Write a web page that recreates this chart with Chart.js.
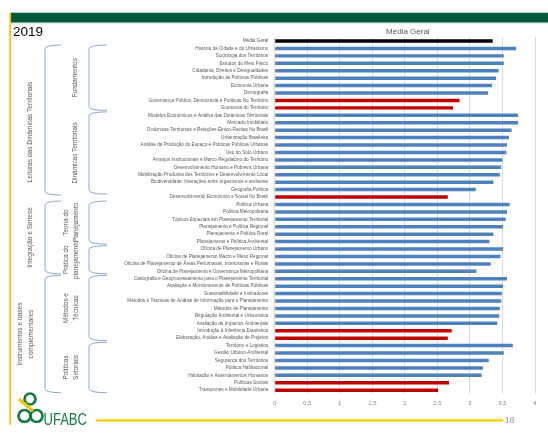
<!DOCTYPE html>
<html><head><meta charset="utf-8">
<script src="https://cdn.jsdelivr.net/npm/chart.js@4"></script>
<style>html,body{margin:0;padding:0;background:#fff;}canvas{display:block;}</style>
</head><body>
<canvas id="c" width="548" height="438"></canvas>
<script>
const categories = [
 'Média Geral',
 'História da Cidade e do Urbanismo','Sociologia dos Territórios','Estudos do Meio Físico','Cidadania, Direitos e Desigualdades','Introdução às Políticas Públicas','Economia Urbana','Demografia','Governança Pública, Democracia e Políticas No Território','Economia do Território',
 'Modelos Econômicos e Análise das Dinâmicas Territoriais','Mercado Imobiliário','Dinâmicas Territoriais e Relações Étnico-Raciais No Brasil','Urbanização Brasileira','Análise da Produção do Espaço e Políticas Públicas Urbanas','Uso do Solo Urbano','Arranjos Institucionais e Marco Regulatório do Território','Desenvolvimento Humano e Pobreza Urbana','Mobilização Produtiva dos Territórios e Desenvolvimento Local','Biodiversidade: Interações entre organismos e ambiente','Geografia Política','Desenvolvimento Econômico e Social No Brasil',
 'Política Urbana','Política Metropolitana','Tópicos Especiais em Planejamento Territorial','Planejamento e Política Regional','Planejamento e Política Rural','Planejamento e Política Ambiental',
 'Oficina de Planejamento Urbano','Oficina de Planejamento Macro e Meso Regional','Oficina de Planejamento de Áreas Periurbanas, Interioranas e Rurais','Oficina de Planejamento e Governança Metropolitana',
 'Cartografia e Geoprocessamento para o Planejamento Territorial','Avaliação e Monitoramento de Políticas Públicas','Sustentabilidade e Indicadores','Métodos e Técnicas de Análise de Informação para o Planejamento','Métodos de Planejamento','Regulação Ambiental e Urbanística','Avaliação de Impactos Ambientais','Introdução à Inferência Estatística','Elaboração, Análise e Avaliação de Projetos',
 'Território e Logística','Gestão Urbano-Ambiental','Segurança dos Territórios','Política Habitacional','Habitação e Assentamentos Humanos','Políticas Sociais','Transportes e Mobilidade Urbana'
];
const values = [
 3.35,
 3.71,3.52,3.52,3.44,3.40,3.34,3.28,2.84,2.74,
 3.74,3.74,3.64,3.60,3.57,3.56,3.50,3.48,3.46,3.36,3.09,2.66,
 3.61,3.57,3.55,3.51,3.36,3.30,
 3.51,3.47,3.32,3.10,
 3.57,3.51,3.49,3.48,3.46,3.45,3.42,2.72,2.66,
 3.66,3.52,3.29,3.20,3.18,2.68,2.51
];
const xTicks = [0,0.5,1,1.5,2,2.5,3,3.5,4];
const outerGroups = [
 {lines:['Leituras das Dinâmicas Territoriais'], from:1, to:21},
 {lines:['Integração e Síntese'], from:22, to:31},
 {lines:['Instrumentos e bases','complementares'], from:32, to:47}
];
const innerGroups = [
 {lines:['Fundamentos'], from:1, to:9},
 {lines:['Dinâmicas Territoriais'], from:10, to:21},
 {lines:['Teoria do','Planejamento'], from:22, to:27},
 {lines:['Prática do','planejamento'], from:28, to:31},
 {lines:['Métodos e','Técnicas'], from:32, to:40},
 {lines:['Políticas','Setoriais'], from:41, to:47}
];
const titleText = 'Média Geral';
const yearText = '2019';
const pageNum = '18';

function brace(ctx, xv, top, bottom, len){
  ctx.beginPath();
  ctx.moveTo(xv+len, top);
  ctx.quadraticCurveTo(xv, top, xv, top+4);
  ctx.lineTo(xv, bottom-4);
  ctx.quadraticCurveTo(xv, bottom, xv+len, bottom);
  ctx.stroke();
}
function vtext(ctx, lines, cx, cy, size, gap){
  ctx.save();
  ctx.translate(cx, cy);
  ctx.rotate(-Math.PI/2);
  ctx.font = size+'px "Liberation Sans", Arial, sans-serif';
  ctx.fillStyle = '#595959';
  ctx.textAlign = 'center';
  ctx.textBaseline = 'middle';
  const n = lines.length;
  lines.forEach((l,i)=>{ ctx.fillText(l, 0, (i-(n-1)/2)*gap); });
  ctx.restore();
}

const deco = {
  id:'deco',
  beforeDraw(chart){
    const ctx = chart.ctx;
    ctx.save();
    ctx.fillStyle = '#fff';
    ctx.fillRect(0,0,chart.width,chart.height);
    ctx.fillStyle = '#005a3a';
    ctx.fillRect(11,12.7,537,10);
    ctx.fillStyle = '#d6ebe3';
    ctx.fillRect(11,22.7,537,1);
    ctx.fillStyle = '#f2c500';
    ctx.fillRect(9.3,12.7,1.8,412);
    ctx.restore();
  },
  afterDraw(chart){
    const ctx = chart.ctx, y = chart.scales.y, ca = chart.chartArea;
    ctx.save();
    ctx.fillStyle = '#000';
    ctx.font = '13.5px "Liberation Sans", Arial, sans-serif';
    ctx.textBaseline = 'alphabetic';
    ctx.fillText(yearText, 13, 36);
    ctx.fillStyle = '#595959';
    ctx.font = '8px "Liberation Sans", Arial, sans-serif';
    ctx.textAlign = 'center';
    ctx.fillText(titleText, (ca.left+ca.right)/2+3, 34);
    ctx.strokeStyle = '#8eaad2';
    ctx.lineWidth = 1;
    outerGroups.forEach((g,k)=>{
      const t = y.getPixelForValue(g.from)-3.4, b = y.getPixelForValue(g.to)+(k===0?-2:2.5);
      brace(ctx, 45, t, b, 16);
      const cy = k===0 ? 132 : (t+b)/2;
      vtext(ctx, g.lines, g.lines.length>1?25.5:30, cy, 6.6, 10.5);
    });
    innerGroups.forEach((g,k)=>{
      const t = y.getPixelForValue(g.from)-3.4, b = y.getPixelForValue(g.to)+(k===1?-3:2.5);
      brace(ctx, 89, t, b, 18);
      vtext(ctx, g.lines, g.lines.length>1?71:75, (t+b)/2, 6.4, 9.5);
    });
    ctx.strokeStyle = '#137a45';
    ctx.lineWidth = 2.6;
    ctx.beginPath(); ctx.arc(30, 399, 5.5, 0, Math.PI*2); ctx.stroke();
    ctx.beginPath(); ctx.arc(24.5, 416, 6, 0, Math.PI*2); ctx.stroke();
    ctx.beginPath(); ctx.arc(36.5, 416, 6, 0, Math.PI*2); ctx.stroke();
    ctx.strokeStyle = '#f2c500';
    ctx.lineWidth = 3;
    ctx.beginPath(); ctx.moveTo(19, 399); ctx.lineTo(33, 411); ctx.stroke();
    ctx.fillStyle = '#137a45';
    ctx.font = '16.5px "Liberation Sans", Arial, sans-serif';
    ctx.textAlign = 'left';
    ctx.save();
    ctx.translate(43.5, 425);
    ctx.scale(0.79, 1);
    ctx.fillText('UFABC', 0, 0);
    ctx.restore();
    ctx.fillStyle = '#f5d20a';
    ctx.fillRect(95.7, 419.2, 407.6, 2.4);
    ctx.fillStyle = '#9a9a9a';
    ctx.font = '8.5px "Liberation Sans", Arial, sans-serif';
    ctx.fillText(pageNum, 505, 422.5);
    ctx.restore();
  }
};

new Chart(document.getElementById('c'), {
  type:'bar',
  data:{
    labels: categories,
    datasets:[{
      data: values,
      backgroundColor: c => c.dataIndex===0 ? '#000000' : (c.raw < 3 ? '#c00000' : '#4f81bd'),
      barPercentage: 0.47,
      categoryPercentage: 1
    }]
  },
  options:{
    indexAxis:'y',
    responsive:false,
    animation:false,
    events:[],
    layout:{padding:{left:0,right:13,top:37.3,bottom:24.1}},
    plugins:{legend:{display:false},tooltip:{enabled:false},title:{display:false}},
    scales:{
      x:{
        min:0,max:4,
        afterBuildTicks: s => { s.ticks = xTicks.map(v=>({value:v})); },
        afterFit: s => { s.height = 20; },
        ticks:{font:{size:6,family:'"Liberation Sans", Arial, sans-serif'},color:'#8a8a8a',padding:6,
          callback: v => String(v).replace('.',',')},
        grid:{color:'#d9d9d9',drawTicks:false,lineWidth:1},
        border:{display:false}
      },
      y:{
        afterFit: s => { s.width = 274.7; },
        ticks:{font:{size:4.7,family:'"Liberation Sans", Arial, sans-serif'},color:'#595959',padding:6.5,autoSkip:false},
        grid:{display:false,drawTicks:false},
        border:{display:false}
      }
    }
  },
  plugins:[deco]
});
</script>
</body></html>
